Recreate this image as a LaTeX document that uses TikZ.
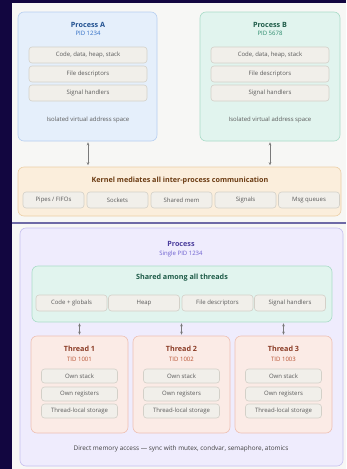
\documentclass[tikz,border=0pt]{standalone}
\usepackage{fontspec}
\setmainfont{Open Sans}
\usetikzlibrary{arrows.meta}
\definecolor{navy}{HTML}{120640}
\definecolor{panel}{HTML}{F7F7F5}
\definecolor{sepc}{HTML}{6E6AA6}
\definecolor{aFill}{HTML}{E5EFFB}\definecolor{aDraw}{HTML}{B7CFF0}
\definecolor{aTitle}{HTML}{1F4F8F}\definecolor{aSub}{HTML}{2E6CC4}
\definecolor{bFill}{HTML}{E1F4EE}\definecolor{bDraw}{HTML}{A9DCC8}
\definecolor{bTitle}{HTML}{1E5B48}\definecolor{bSub}{HTML}{2A8A6B}
\definecolor{iFill}{HTML}{F1EFEA}\definecolor{iDraw}{HTML}{D3D0C8}
\definecolor{iText}{HTML}{5A5A5A}
\definecolor{kFill}{HTML}{FBEEDC}\definecolor{kDraw}{HTML}{ECCFA6}
\definecolor{kTitle}{HTML}{6B3B12}
\definecolor{pFill}{HTML}{EFECFD}\definecolor{pDraw}{HTML}{C7C0F0}
\definecolor{pTitle}{HTML}{4B3D9C}\definecolor{pSub}{HTML}{6C5FCF}
\definecolor{tFill}{HTML}{FBEBE6}\definecolor{tDraw}{HTML}{EEC0B3}
\definecolor{tTitle}{HTML}{8A3B25}\definecolor{tSub}{HTML}{B7502F}
\definecolor{arr}{HTML}{7A7A7A}
\begin{document}
\begin{tikzpicture}[x=1pt,y=-1pt,
  bigbox/.style={rounded corners=6pt, line width=0.6pt, inner sep=0pt},
  procA/.style={bigbox, fill=aFill, draw=aDraw},
  procB/.style={bigbox, fill=bFill, draw=bDraw},
  kern/.style={bigbox, fill=kFill, draw=kDraw},
  proc/.style={bigbox, fill=pFill, draw=pDraw},
  shared/.style={bigbox, fill=bFill, draw=bDraw},
  thread/.style={bigbox, fill=tFill, draw=tDraw},
  item/.style={rounded corners=3pt, fill=iFill, draw=iDraw, line width=0.6pt,
    inner sep=0pt, text=iText, font=\fontsize{6}{7}\selectfont},
  ttl/.style={font=\fontseries{sb}\selectfont\fontsize{7.2}{8}\selectfont, inner sep=0pt},
  sub/.style={font=\fontsize{6}{7}\selectfont, inner sep=0pt},
  note/.style={font=\fontsize{6}{7}\selectfont, inner sep=0pt, text=iText},
  link/.style={draw=arr, line width=0.6pt, {Stealth[length=3pt,width=2.6pt]}-{Stealth[length=3pt,width=2.6pt]}}
]
\useasboundingbox (0,0) rectangle (346,469);
\fill[navy] (0,0) rectangle (346,469);
\fill[panel] (12,3) rectangle (346,222);
\fill[panel] (12,224) rectangle (346,469);
\draw[sepc, line width=1.4pt] (12,223) -- (346,223);

% ---- top: processes
\node[procA, minimum width=139pt, minimum height=129pt] (pa) at (87.5,76.5) {};
\node[procB, minimum width=140pt, minimum height=129pt] (pb) at (270,76.5) {};
\node[ttl, text=aTitle] (pat) at (88,25) {Process A};
\node[sub, text=aSub] (pas) at (88,33) {PID 1234};
\node[ttl, text=bTitle] (pbt) at (270,25) {Process B};
\node[sub, text=bSub] (pbs) at (270,33) {PID 5678};
\foreach \n/\t/\y in {1/{Code, data, heap, stack}/55, 2/{File descriptors}/74, 3/{Signal handlers}/93}{
  \node[item, minimum width=118pt, minimum height=16pt] (a\n) at (88,\y) {\t};
  \node[item, minimum width=118pt, minimum height=16pt] (b\n) at (270,\y) {\t};
}
\node[note] (pan) at (88,120) {Isolated virtual address space};
\node[note] (pbn) at (270,120) {Isolated virtual address space};

\node[kern, minimum width=323pt, minimum height=49pt] (k) at (179.5,191.5) {};
\node[ttl, text=kTitle] (kt) at (180,181) {Kernel mediates all inter-process communication};
\foreach \n/\t/\x in {1/{Pipes / FIFOs}/53.5, 2/Sockets/117.5, 3/{Shared mem}/181.5, 4/Signals/245.5, 5/{Msg queues}/309}{
  \node[item, minimum width=61pt, minimum height=16pt] (k\n) at (\x,200) {\t};
}
\draw[link] ([yshift=-1pt]pa.south -| 88,0) -- ([yshift=1.5pt]k.north -| 88,0);
\draw[link] ([yshift=-1pt]pb.south -| 270,0) -- ([yshift=1.5pt]k.north -| 270,0);

% ---- bottom: threads
\node[proc, minimum width=323pt, minimum height=238pt] (p) at (181.5,347) {};
\node[ttl, text=pTitle] (pt) at (181,244) {Process};
\node[sub, text=pSub] (ps) at (181,254) {Single PID 1234};
\node[shared, minimum width=300pt, minimum height=56pt] (s) at (182,294) {};
\node[ttl, text=bTitle] (st) at (182,278) {Shared among all threads};
\foreach \n/\t/\x in {1/{Code + globals}/71.5, 2/Heap/144, 3/{File descriptors}/217.5, 4/{Signal handlers}/290}{
  \node[item, minimum width=71pt, minimum height=16pt] (s\n) at (\x,303) {\t};
}
\foreach \n/\x/\id in {1/79.5/1001, 2/181.5/1002, 3/283.5/1003}{
  \node[thread, minimum width=97pt, minimum height=97pt] (t\n) at (\x,384.5) {};
  \node[ttl, text=tTitle] (t\n t) at (\x,349) {Thread \n};
  \node[sub, text=tSub] (t\n s) at (\x,359) {TID \id};
  \node[item, minimum width=76pt, minimum height=14pt] (t\n a) at (\x,376) {Own stack};
  \node[item, minimum width=76pt, minimum height=14pt] (t\n b) at (\x,394) {Own registers};
  \node[item, minimum width=76pt, minimum height=14pt] (t\n c) at (\x,411) {Thread-local storage};
  \draw[link] ([yshift=-1pt]s.south -| t\n.north) -- ([yshift=1pt]t\n.north);
}
\node[note, text=black!75, font=\fontsize{6.4}{7}\selectfont] (foot) at (181,449) {Direct memory access — sync with mutex, condvar, semaphore, atomics};
\end{tikzpicture}
\end{document}
